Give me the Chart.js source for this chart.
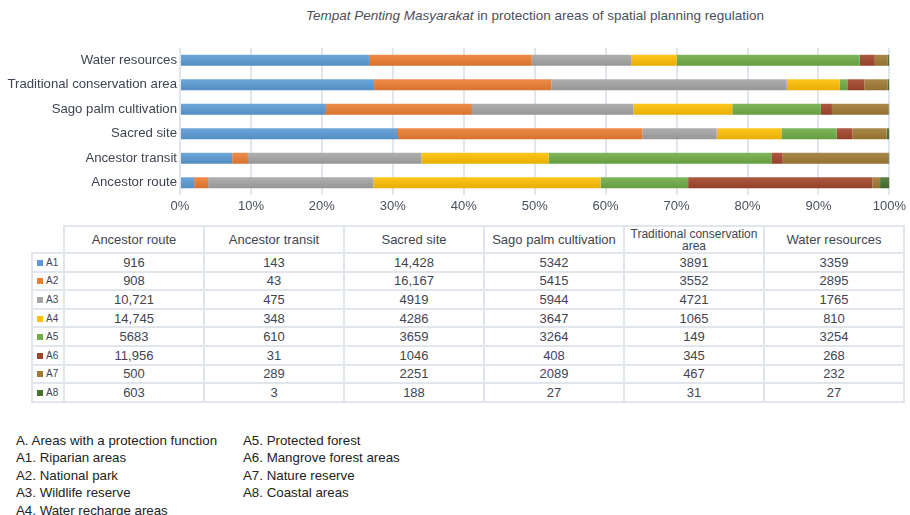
<!DOCTYPE html>
<html>
<head>
<meta charset="utf-8">
<script src="https://cdn.jsdelivr.net/npm/chart.js@4"></script>
<style>
    body { margin: 0; background: #fff; width: 910px; height: 515px; position: relative; overflow: hidden;
           font-family: 'Liberation Sans', Arial, sans-serif; }
    #title { position: absolute; top: 8px; left: 180px; width: 710px; text-align: center;
             font-size: 13.5px; color: #4a4f5c; }
    #chartBox { position: absolute; left: 0; top: 0; width: 910px; height: 220px; }
    #dataTable { position: absolute; left: 31px; top: 225px; border-collapse: collapse; color: #3f4452;
                 font-size: 13px; }
    #dataTable td, #dataTable th { border: 2px solid #e1e5ec; text-align: center; padding: 0; font-weight: normal; }
    #dataTable th { height: 25px; line-height: 13px; }
    #dataTable th.blank { border: none; }
    #dataTable td { height: 16.6px; line-height: 15px; }
    #dataTable td.key { width: 28px; font-size: 10px; text-align: left; padding-left: 2px; }
    .sw { display: inline-block; width: 6px; height: 6px; margin: 0 3px 0 2px; }
    .notes { position: absolute; top: 432px; font-size: 13.3px; color: #222; line-height: 17.4px; }
</style>
</head>
<body>
<div id="title"><i>Tempat Penting Masyarakat</i> in protection areas of spatial planning regulation</div>
<div id="chartBox"><canvas id="barChart" width="910" height="220"></canvas></div>
<table id="dataTable"></table>
<div class="notes" style="left:16px">
    A. Areas with a protection function<br>A1. Riparian areas<br>A2. National park<br>A3. Wildlife reserve<br>A4. Water recharge areas
</div>
<div class="notes" style="left:243px">
    A5. Protected forest<br>A6. Mangrove forest areas<br>A7. Nature reserve<br>A8. Coastal areas
</div>
<script>
// Categories in the table order (chart shows them bottom to top)
const categories = ['Ancestor route', 'Ancestor transit', 'Sacred site', 'Sago palm cultivation', 'Traditional conservation area', 'Water resources'];
const seriesNames = ['A1', 'A2', 'A3', 'A4', 'A5', 'A6', 'A7', 'A8'];
const seriesColors = ['#5b9bd5', '#ed7d31', '#a5a5a5', '#ffc000', '#70ad47', '#a3452b', '#a07a33', '#46712f'];

// Values per series, one per category
const a1 = [916, 143, 14428, 5342, 3891, 3359];
const a2 = [908, 43, 16167, 5415, 3552, 2895];
const a3 = [10721, 475, 4919, 5944, 4721, 1765];
const a4 = [14745, 348, 4286, 3647, 1065, 810];
const a5 = [5683, 610, 3659, 3264, 149, 3254];
const a6 = [11956, 31, 1046, 408, 345, 268];
const a7 = [500, 289, 2251, 2089, 467, 232];
const a8 = [603, 3, 188, 27, 31, 27];
const seriesValues = [a1, a2, a3, a4, a5, a6, a7, a8];

const xTicks = [0, 10, 20, 30, 40, 50, 60, 70, 80, 90, 100];

// Totals for the 100% stacking
const totals = categories.map((c, i) => seriesValues.reduce((s, arr) => s + arr[i], 0));

// top-down order on the chart
const order = [5, 4, 3, 2, 1, 0];

function shade(hex, amt) {
    const n = parseInt(hex.slice(1), 16);
    let r = (n >> 16) & 255, g = (n >> 8) & 255, b = n & 255;
    const f = v => Math.max(0, Math.min(255, Math.round(amt > 0 ? v + (255 - v) * amt : v * (1 + amt))));
    return `rgb(${f(r)}, ${f(g)}, ${f(b)})`;
}

function barFill(color) {
    return function(ctx) {
        const chart = ctx.chart;
        if (!chart.chartArea || ctx.dataIndex === undefined) return color;
        const y = chart.scales.y.getPixelForValue(ctx.dataIndex);
        const g = chart.ctx.createLinearGradient(0, y - 6, 0, y + 6);
        g.addColorStop(0, shade(color, 0.12));
        g.addColorStop(1, shade(color, -0.1));
        return g;
    };
}

const datasets = seriesNames.map((name, s) => ({
    label: name,
    data: order.map(i => seriesValues[s][i] / totals[i] * 100),
    backgroundColor: barFill(seriesColors[s]),
    borderWidth: 0,
    barPercentage: 0.45,
    categoryPercentage: 1
}));

new Chart(document.getElementById('barChart'), {
    type: 'bar',
    data: { labels: order.map(i => categories[i]), datasets: datasets },
    options: {
        indexAxis: 'y',
        responsive: false,
        animation: false,
        maintainAspectRatio: false,
        layout: { padding: { top: 48, right: 20, bottom: 0, left: 0 } },
        plugins: { legend: { display: false }, tooltip: { enabled: false } },
        scales: {
            x: {
                stacked: true,
                min: 0,
                max: 100,
                afterFit: scale => { scale.height = 25; },
                afterBuildTicks: scale => { scale.ticks = xTicks.map(v => ({ value: v })); },
                grid: { color: '#e1e5ec', lineWidth: 2, drawTicks: false },
                border: { display: false },
                ticks: {
                    padding: 4,
                    maxRotation: 0,
                    color: '#4a4f5c',
                    font: { family: "'Liberation Sans', Arial, sans-serif", size: 13 },
                    callback: v => v + '%'
                }
            },
            y: {
                stacked: true,
                afterFit: scale => { scale.width = 180; },
                grid: { display: false, drawTicks: false },
                border: { display: false },
                ticks: {
                    padding: 3,
                    autoSkip: false,
                    color: '#3f4452',
                    font: { family: "'Liberation Sans', Arial, sans-serif", size: 13.2 }
                }
            }
        }
    }
});

// Data table under the chart
(function buildTable() {
    const table = document.getElementById('dataTable');
    let html = '<tr><th class="blank" style="width:28px"></th>';
    categories.forEach(c => {
        const small = c.length > 24 ? ' style="font-size:12px;line-height:12px"' : '';
        html += `<th${small}><div style="width:138px;margin:auto">${c}</div></th>`;
    });
    html += '</tr>';
    seriesNames.forEach((name, s) => {
        html += `<tr><td class="key"><span class="sw" style="background:${seriesColors[s]}"></span>${name}</td>`;
        seriesValues[s].forEach(v => {
            const txt = v >= 10000 ? v.toLocaleString('en-US') : String(v);
            html += `<td>${txt}</td>`;
        });
        html += '</tr>';
    });
    table.innerHTML = html;
})();
</script>
</body>
</html>
